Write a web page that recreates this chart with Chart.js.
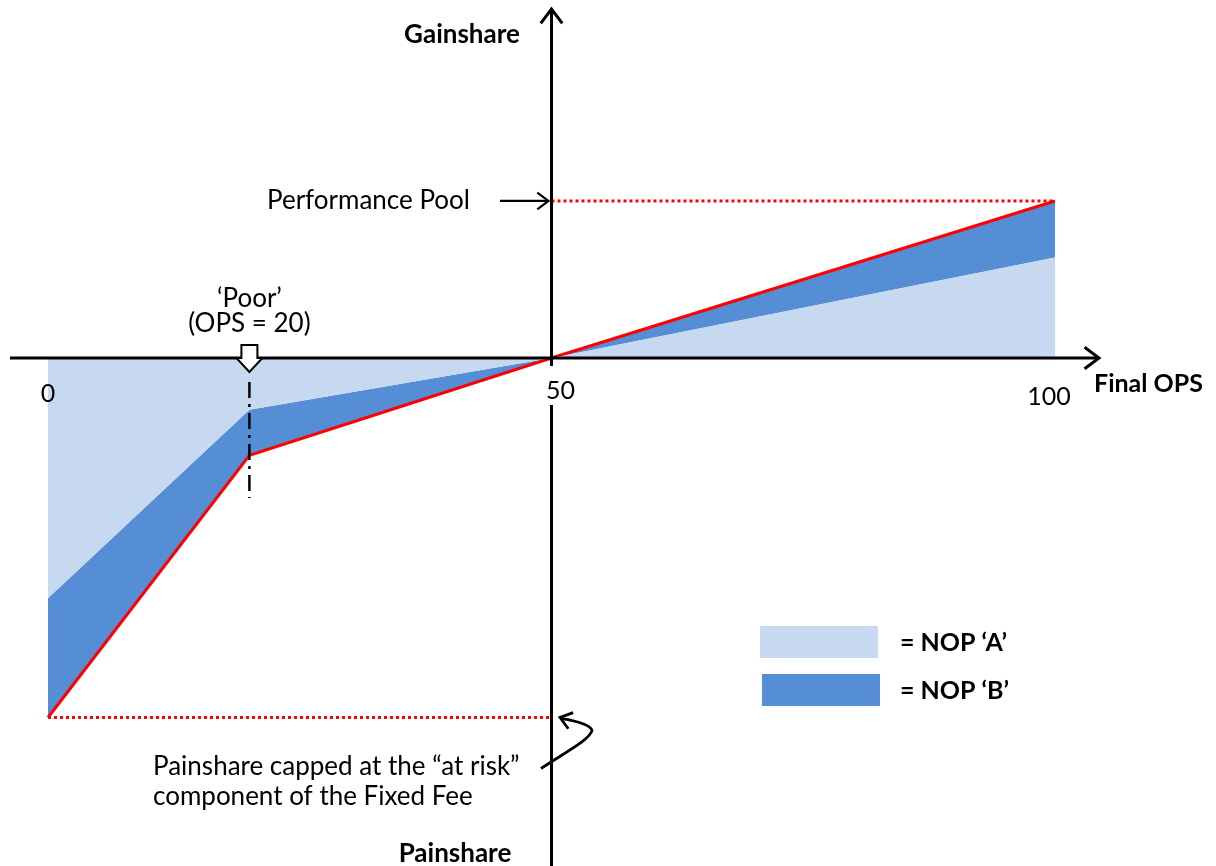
<!DOCTYPE html>
<html>
<head>
<meta charset="utf-8">
<script src="https://cdn.jsdelivr.net/npm/chart.js@4.4.1/dist/chart.umd.min.js"></script>
<style>
  html, body { margin: 0; padding: 0; background: #fff; }
  #wrap { width: 1216px; height: 866px; position: relative; }
</style>
</head>
<body>
<div id="wrap"><canvas id="chart"></canvas></div>
<script>
// Final OPS breakpoints and share values (performance pool = 100)
const opsPoints = [0, 20, 50, 100];
const nopA = [-153, -33, 0, 64];
const nopB = [-229, -62, 0, 100];
const tickLabels = ['0', '50', '100'];
const tickValues = [0, 50, 100];
const legendLabels = ['= NOP \u2018A\u2019', '= NOP \u2018B\u2019'];
const poorOps = 20;
const midOps = 50;

const poolValue = nopB[nopB.length - 1];
const capValue = nopB[0];

const LIGHT = '#c6d9f1';
const DARK = '#558ed5';
const RED = '#ff0000';
const FONT = 'Lato, "Open Sans", sans-serif';

function arrowHead(ctx, x, y, dir, size) {
    // open chevron arrowhead pointing in dir (radians)
    ctx.beginPath();
    ctx.moveTo(x + Math.cos(dir + 2.5) * size, y + Math.sin(dir + 2.5) * size);
    ctx.lineTo(x, y);
    ctx.lineTo(x + Math.cos(dir - 2.5) * size, y + Math.sin(dir - 2.5) * size);
    ctx.stroke();
}

const diagramPlugin = {
    id: 'diagram',
    afterDatasetsDraw(chart) {
        const ctx = chart.ctx;
        const xs = chart.scales.x, ys = chart.scales.y;
        const y0 = ys.getPixelForValue(0);
        const xMid = xs.getPixelForValue(midOps);
        const xPoor = xs.getPixelForValue(poorOps);
        const yPool = ys.getPixelForValue(poolValue);
        const yCap = ys.getPixelForValue(capValue);

        ctx.save();
        ctx.strokeStyle = '#000';
        ctx.fillStyle = '#000';
        ctx.lineWidth = 3;
        ctx.lineCap = 'butt';

        // horizontal axis
        ctx.beginPath();
        ctx.moveTo(10, y0);
        ctx.lineTo(1098, y0);
        ctx.stroke();
        arrowHead(ctx, 1099, y0, 0, 18);

        // vertical axis (gap around the "50" label)
        ctx.beginPath();
        ctx.moveTo(xMid, 10);
        ctx.lineTo(xMid, y0 + 8);
        ctx.moveTo(xMid, y0 + 47);
        ctx.lineTo(xMid, 866);
        ctx.stroke();
        arrowHead(ctx, xMid, 9, -Math.PI / 2, 18);

        // dash-dot marker at Poor
        ctx.lineWidth = 2.5;
        ctx.setLineDash([16, 6, 3, 6]);
        ctx.beginPath();
        ctx.moveTo(xPoor, y0 + 24);
        ctx.lineTo(xPoor, y0 + 140);
        ctx.stroke();
        ctx.setLineDash([]);

        // hollow block arrow pointing at Poor
        ctx.lineWidth = 2;
        ctx.fillStyle = '#fff';
        ctx.beginPath();
        ctx.moveTo(xPoor - 8, y0 - 13);
        ctx.lineTo(xPoor + 8, y0 - 13);
        ctx.lineTo(xPoor + 8, y0);
        ctx.lineTo(xPoor + 13, y0);
        ctx.lineTo(xPoor, y0 + 14);
        ctx.lineTo(xPoor - 13, y0);
        ctx.lineTo(xPoor - 8, y0);
        ctx.closePath();
        ctx.fill();
        ctx.stroke();

        // Performance Pool arrow
        ctx.lineWidth = 2.2;
        ctx.beginPath();
        ctx.moveTo(500, yPool);
        ctx.lineTo(xMid - 3, yPool);
        ctx.stroke();
        arrowHead(ctx, xMid - 3, yPool, 0, 14);

        // hooked arrow to painshare cap
        ctx.lineWidth = 2.8;
        ctx.beginPath();
        ctx.moveTo(541, yCap + 51);
        ctx.bezierCurveTo(565, yCap + 35, 590, yCap + 22, 592, yCap + 13);
        ctx.quadraticCurveTo(590, yCap + 6, 561, yCap + 1);
        ctx.stroke();
        arrowHead(ctx, 560, yCap, Math.atan2(-0.3, -1), 14);

        // texts
        ctx.fillStyle = '#000';
        ctx.textBaseline = 'middle';
        ctx.textAlign = 'center';
        ctx.font = 'bold 26px ' + FONT;
        ctx.fillText('Gainshare', 462, 35);
        ctx.fillText('Painshare', 455, 854);
        ctx.textAlign = 'left';
        ctx.font = 'bold 25px ' + FONT;
        ctx.fillText('Final OPS', 1094, 384);

        ctx.font = '26px ' + FONT;
        ctx.textAlign = 'center';
        ctx.fillText('\u2018Poor\u2019', xPoor, 299);
        ctx.fillText('(OPS = ' + poorOps + ')', xPoor, 324);
        ctx.textAlign = 'left';
        ctx.fillText('Performance Pool', 267, yPool);
        ctx.fillText('Painshare capped at the \u201cat risk\u201d', 153, 767);
        ctx.fillText('component of the Fixed Fee', 153, 797);

        // tick labels
        ctx.font = '25px ' + FONT;
        ctx.textAlign = 'center';
        const tickOffsets = [0, 9, -6];
        const tickY = [394, 391, 397];
        tickValues.forEach((v, i) => {
            ctx.fillText(tickLabels[i], xs.getPixelForValue(v) + tickOffsets[i], tickY[i]);
        });

        // legend
        const swatches = [LIGHT, DARK];
        const legY = [626, 674];
        const legX = [760, 762];
        ctx.font = 'bold 25px ' + FONT;
        ctx.textAlign = 'left';
        legendLabels.forEach((lbl, i) => {
            ctx.fillStyle = swatches[i];
            ctx.fillRect(legX[i], legY[i], 118, 32);
            ctx.fillStyle = '#000';
            ctx.fillText(lbl, 900, legY[i] + 17);
        });

        ctx.restore();
    }
};

const toPts = (xv, yv) => xv.map((x, i) => ({ x: x, y: yv[i] }));

new Chart(document.getElementById('chart'), {
    type: 'line',
    data: {
        datasets: [
            {
                label: 'NOP A',
                data: toPts(opsPoints, nopA),
                borderWidth: 0,
                borderColor: 'rgba(0,0,0,0)',
                backgroundColor: LIGHT,
                fill: 'origin',
                pointRadius: 0
            },
            {
                label: 'NOP B',
                data: toPts(opsPoints, nopB),
                borderWidth: 3,
                borderColor: RED,
                backgroundColor: DARK,
                fill: '-1',
                pointRadius: 0
            },
            {
                label: 'Performance Pool',
                data: [{ x: midOps, y: poolValue }, { x: opsPoints[opsPoints.length - 1], y: poolValue }],
                borderWidth: 3,
                borderColor: RED,
                borderDash: [3, 3],
                fill: false,
                pointRadius: 0
            },
            {
                label: 'Painshare cap',
                data: [{ x: opsPoints[0], y: capValue }, { x: midOps, y: capValue }],
                borderWidth: 3,
                borderColor: RED,
                borderDash: [3, 3],
                fill: false,
                pointRadius: 0
            }
        ]
    },
    options: {
        responsive: true,
        maintainAspectRatio: false,
        animation: false,
        layout: { padding: 0 },
        elements: { line: { tension: 0 } },
        scales: {
            x: { type: 'linear', display: false, min: -4.767, max: 115.99 },
            y: { type: 'linear', display: false, min: -323.6, max: 228 }
        },
        plugins: {
            legend: { display: false },
            tooltip: { enabled: false }
        }
    },
    plugins: [diagramPlugin]
});
</script>
</body>
</html>
